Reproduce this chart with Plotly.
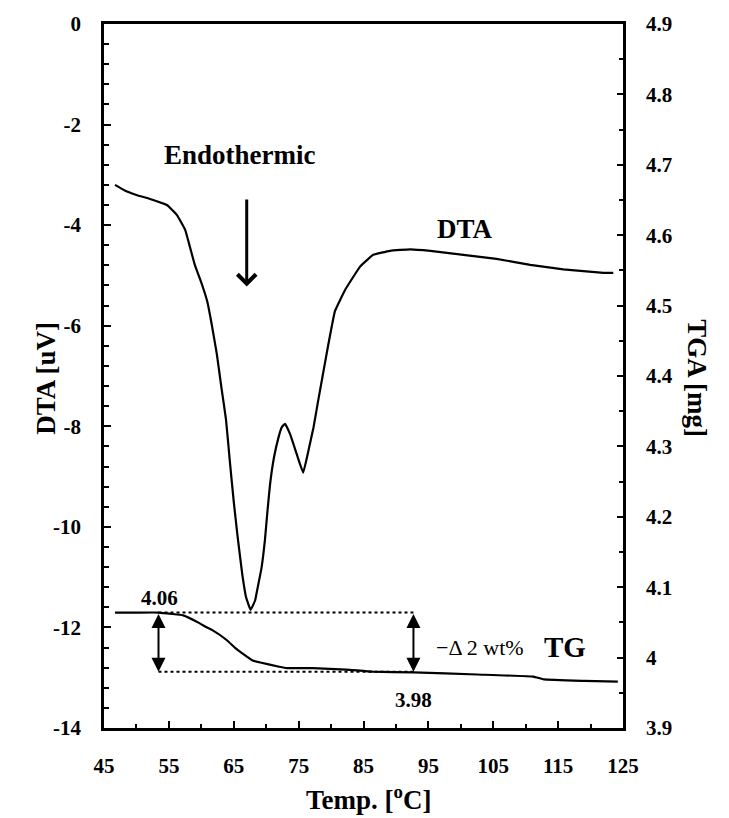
import plotly.graph_objects as go

# ---------------- data ----------------
dta_temp = [46.7, 48.2, 50.0, 52.1, 54.7, 56.2, 57.5, 58.3, 59.0, 60.1, 60.9, 61.6, 62.4, 63.1,
            63.8, 64.4, 65.0, 65.6, 66.3, 66.9, 67.6, 68.3, 68.5, 69.3, 69.8, 70.2, 70.6,
            71.2, 71.9, 72.4, 72.9, 73.7, 74.7, 75.7, 76.5, 77.3, 78.0, 79.3, 80.6, 82.2,
            84.5, 86.5, 89.1, 92.2, 95.3, 100.4, 105.5, 110.7, 115.8, 122.0, 123.5]
dta_val = [-3.20, -3.31, -3.40, -3.48, -3.60, -3.79, -4.09, -4.46, -4.79, -5.18, -5.51, -5.97,
           -6.57, -7.23, -7.86, -8.70, -9.50, -10.20, -10.93, -11.40, -11.65, -11.46, -11.33,
           -10.80, -10.27, -9.68, -9.15, -8.62, -8.22, -8.02, -7.95, -8.16, -8.55, -8.92,
           -8.49, -8.02, -7.50, -6.57, -5.71, -5.28, -4.82, -4.59, -4.51, -4.48, -4.51,
           -4.59, -4.67, -4.79, -4.88, -4.95, -4.95]

tg_temp = [46.7, 50.0, 53.4, 55.5, 57.2, 59.7, 60.8, 61.7, 63.9, 65.3, 66.0, 67.9, 69.1, 72.0,
           73.2, 77.2, 82.3, 86.4, 92.7, 102.5, 111.2, 112.8, 119.0, 124.2]
tg_val = [4.064, 4.064, 4.064, 4.062, 4.060, 4.049, 4.043, 4.039, 4.025, 4.013, 4.008, 3.996,
          3.993, 3.987, 3.985, 3.985, 3.983, 3.980, 3.979, 3.976, 3.973, 3.969, 3.967, 3.966]

# reference levels for the mass-loss marking
tg_high = 4.064
tg_low = 3.980
mark_temps = [53.4, 92.7]

x_ticks = [45, 55, 65, 75, 85, 95, 105, 115, 125]
x_ticktext = ["45", "55", "65", "75", "85", "95", "105", "115", "125"]
y_ticks = [0, -2, -4, -6, -8, -10, -12, -14]
y_ticktext = ["0", "-2", "-4", "-6", "-8", "-10", "-12", "-14"]
y2_ticks = [3.9, 4.0, 4.1, 4.2, 4.3, 4.4, 4.5, 4.6, 4.7, 4.8, 4.9]
y2_ticktext = ["3.9", "4", "4.1", "4.2", "4.3", "4.4", "4.5", "4.6", "4.7", "4.8", "4.9"]

FONT = "Liberation Serif, Times New Roman, serif"

fig = go.Figure()
fig.add_trace(go.Scatter(x=dta_temp, y=dta_val, mode="lines",
                         line=dict(color="black", width=2.2, shape="spline", smoothing=0.3),
                         showlegend=False, yaxis="y"))
fig.add_trace(go.Scatter(x=tg_temp, y=tg_val, mode="lines",
                         line=dict(color="black", width=2.2, shape="spline", smoothing=0.3),
                         showlegend=False, yaxis="y2"))
# dotted reference lines
fig.add_trace(go.Scatter(x=mark_temps, y=[tg_high, tg_high], mode="lines",
                         line=dict(color="black", width=2, dash="dot"),
                         showlegend=False, yaxis="y2"))
fig.add_trace(go.Scatter(x=mark_temps, y=[tg_low, tg_low], mode="lines",
                         line=dict(color="black", width=2, dash="dot"),
                         showlegend=False, yaxis="y2"))

annotations = []
# double-headed arrows
for t in mark_temps:
    annotations.append(dict(x=t, y=tg_low, ax=t, ay=tg_high, xref="x", yref="y2",
                            axref="x", ayref="y2", showarrow=True, arrowhead=2,
                            startarrowhead=2, arrowside="end+start", arrowsize=1.4,
                            startarrowsize=1.4, arrowwidth=2, arrowcolor="black", text="",
                            standoff=0, startstandoff=0))
# endothermic arrow
annotations.append(dict(x=67.0, y=-5.22, ax=67.0, ay=-3.46, xref="x", yref="y",
                        axref="x", ayref="y", showarrow=True, arrowhead=4, arrowsize=1.2,
                        arrowwidth=3, arrowcolor="black", text=""))

def txt(text, x, y, yref, size, bold=True, xanchor="center"):
    return dict(text=text, x=x, y=y, xref="x", yref=yref, showarrow=False,
                xanchor=xanchor, yanchor="middle",
                font=dict(family=FONT, size=size, color="black",
                          weight="bold" if bold else "normal"))

annotations += [
    txt("Endothermic", 66.0, -2.60, "y", 27),
    txt("DTA", 100.7, -4.08, "y", 27),
    txt("4.06", 53.6, 4.084, "y2", 21),
    txt("3.98", 92.7, 3.940, "y2", 21),
    txt("\u2212\u0394 2 wt%", 95.8, 4.015, "y2", 22, bold=False, xanchor="left"),
    txt("TG", 116.1, 4.015, "y2", 29),
]
# axis titles
annotations += [
    dict(text="DTA [uV]", x=-0.145, y=0.497, xref="paper", yref="paper", showarrow=False,
         textangle=-90, font=dict(family=FONT, size=27, color="black", weight="bold")),
    dict(text="TGA [mg]", x=1.175, y=0.497, xref="paper", yref="paper", showarrow=False,
         textangle=90, font=dict(family=FONT, size=27, color="black", weight="bold")),
    dict(text="Temp. [<sup>o</sup>C]", x=0.509, y=-0.127, xref="paper", yref="paper",
         showarrow=False, font=dict(family=FONT, size=27, color="black", weight="bold")),
]

tickfont = dict(family=FONT, size=21, color="black", weight="bold")

fig.update_layout(
    width=729, height=818,
    margin=dict(l=104, r=106, t=22, b=90, pad=0),
    plot_bgcolor="white", paper_bgcolor="white",
    showlegend=False,
    annotations=annotations,
    xaxis=dict(range=[45, 125], tickvals=x_ticks, ticktext=x_ticktext,
               ticks="inside", ticklen=7, tickwidth=2, tickcolor="black",
               minor=dict(dtick=5, tick0=45, ticks="inside", ticklen=4, tickwidth=2,
                          tickcolor="black"),
               showline=True, linewidth=2.5, linecolor="black", mirror=True,
               showgrid=False, zeroline=False, tickfont=tickfont, ticklabelstandoff=17),
    yaxis=dict(range=[-14, 0], tickvals=y_ticks, ticktext=y_ticktext,
               ticks="inside", ticklen=7, tickwidth=2, tickcolor="black",
               minor=dict(dtick=0.4, tick0=0, ticks="inside", ticklen=5, tickwidth=2,
                          tickcolor="black"),
               showline=True, linewidth=2.5, linecolor="black",
               showgrid=False, zeroline=False, tickfont=tickfont, ticklabelstandoff=16),
    yaxis2=dict(range=[3.9, 4.9], tickvals=y2_ticks, ticktext=y2_ticktext,
                overlaying="y", side="right",
                ticks="inside", ticklen=6, tickwidth=2, tickcolor="black",
                minor=dict(dtick=0.05, tick0=3.9, ticks="inside", ticklen=4, tickwidth=2,
                           tickcolor="black"),
                showline=True, linewidth=2.5, linecolor="black",
                showgrid=False, zeroline=False, tickfont=tickfont, ticklabelstandoff=16),
)

fig.write_html("out.html")
